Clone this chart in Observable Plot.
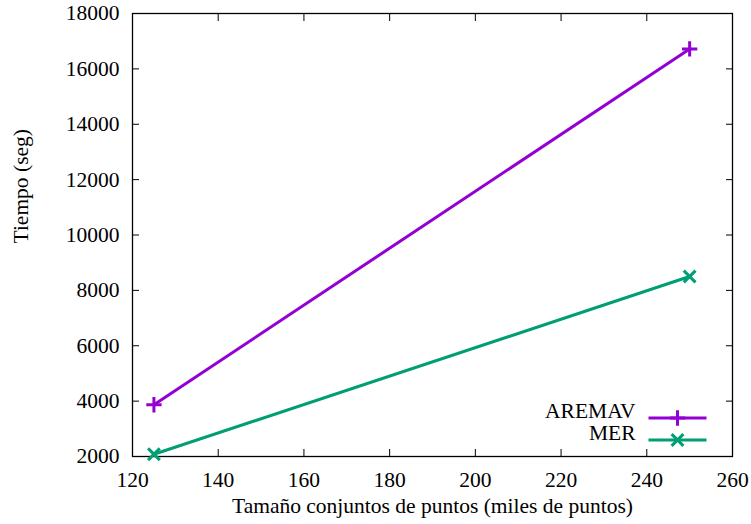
<!DOCTYPE html>
<html>
<head>
<meta charset="utf-8">
<script src="https://cdn.jsdelivr.net/npm/d3@7"></script>
<script src="https://cdn.jsdelivr.net/npm/@observablehq/plot@0.6"></script>
<style>
  html, body { margin: 0; padding: 0; background: white; }
</style>
</head>
<body>
<div id="chart"></div>
<script>
// Data
const sizes = [125, 250];               // miles de puntos
const aremav = [3870, 16720];           // seg
const mer = [2080, 8500];               // seg
const seriesNames = ["AREMAV", "MER"];
const seriesColors = ["#9400D3", "#009E73"];
const seriesSymbols = ["plus", "times"];
const xTicks = [120, 140, 160, 180, 200, 220, 240, 260];
const yTicks = [2000, 4000, 6000, 8000, 10000, 12000, 14000, 16000, 18000];
const xLabel = "Tamaño conjuntos de puntos (miles de puntos)";
const yLabel = "Tiempo (seg)";

const rows = [
  ...sizes.map((x, i) => ({x, y: aremav[i], s: seriesNames[0]})),
  ...sizes.map((x, i) => ({x, y: mer[i], s: seriesNames[1]}))
];

const legendLine = {
  draw(ctx) { ctx.moveTo(-29, 0); ctx.lineTo(29, 0); }
};
const symR = [5.0, 5.4];
const fmt = d => String(d);

const marks = [
  Plot.axisX({ticks: xTicks, anchor: "bottom", tickSize: 0, tickPadding: 15, tickFormat: fmt, label: null}),
  Plot.axisX({ticks: xTicks, anchor: "bottom", tickSize: -7, tickFormat: () => "", label: null}),
  Plot.axisX({ticks: xTicks, anchor: "top", tickSize: -7, tickFormat: () => "", label: null}),
  Plot.axisY({ticks: yTicks, anchor: "left", tickSize: 0, tickPadding: 13, tickFormat: fmt, label: null}),
  Plot.axisY({ticks: yTicks, anchor: "left", tickSize: -7, tickFormat: () => "", label: null}),
  Plot.axisY({ticks: yTicks, anchor: "right", tickSize: -7, tickFormat: () => "", label: null}),
  Plot.frame({stroke: "black", strokeWidth: 1.3})
];

seriesNames.forEach((name, i) => {
  const d = rows.filter(r => r.s === name);
  marks.push(Plot.line(d, {x: "x", y: "y", stroke: seriesColors[i], strokeWidth: 3}));
  marks.push(Plot.dot(d, {x: "x", y: "y", symbol: seriesSymbols[i], stroke: seriesColors[i], strokeWidth: 3, r: symR[i]}));
  // legend
  const ly = i === 0 ? -38.5 : -16.5;
  marks.push(Plot.text([name], {text: d => d, frameAnchor: "bottom-right", textAnchor: "end", dx: -97, dy: ly, fill: "black"}));
  marks.push(Plot.dot([name], {frameAnchor: "bottom-right", dx: -55, dy: ly, symbol: legendLine, stroke: seriesColors[i], strokeWidth: 3, r: 5}));
  marks.push(Plot.dot([name], {frameAnchor: "bottom-right", dx: -55, dy: ly, symbol: seriesSymbols[i], stroke: seriesColors[i], strokeWidth: 3, r: symR[i]}));
});

marks.push(Plot.text([xLabel], {text: d => d, frameAnchor: "bottom", dy: 56.5, fill: "black"}));
marks.push(Plot.text([yLabel], {text: d => d, frameAnchor: "left", rotate: -90, dx: -111.5, dy: 8.5, fill: "black"}));

const chart = Plot.plot({
  width: 751,
  height: 524,
  marginLeft: 132,
  marginRight: 19,
  marginTop: 13,
  marginBottom: 68,
  x: {domain: [120, 260]},
  y: {domain: [2000, 18000]},
  style: {fontFamily: "'Liberation Serif', 'Times New Roman', serif", fontSize: "21.5px", color: "black", background: "white"},
  marks
});
document.getElementById("chart").appendChild(chart);
</script>
</body>
</html>
